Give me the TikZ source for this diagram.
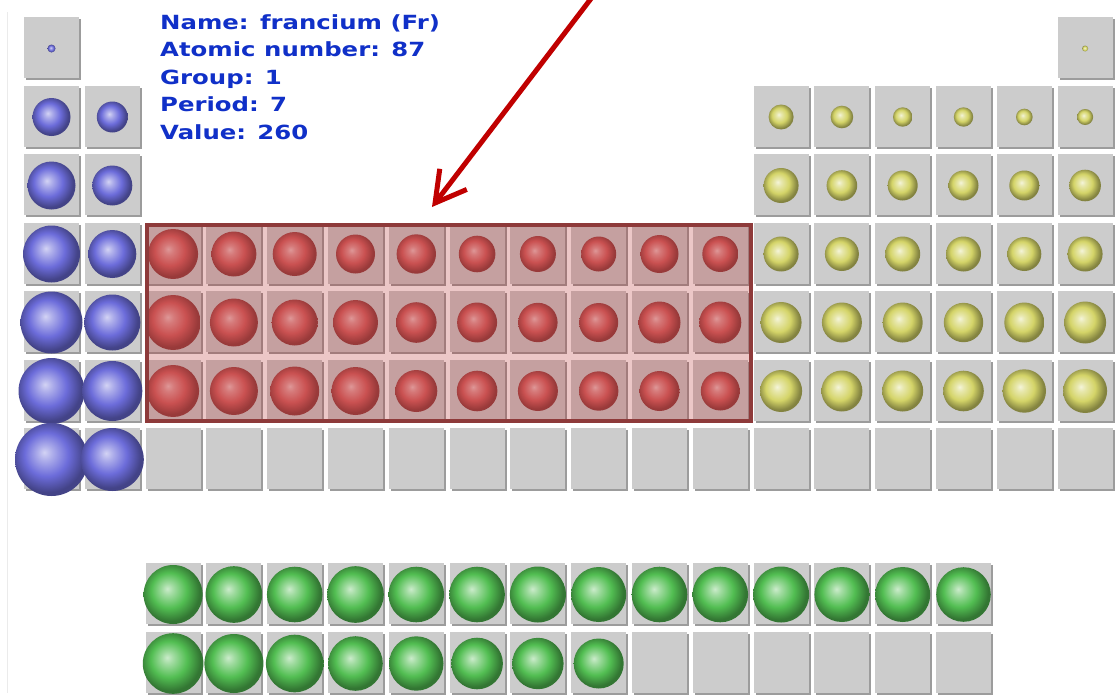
\documentclass[tikz,border=0pt]{standalone}
\usepackage{fontspec}
\usepackage{xcolor}
\usepackage{tikz}
\usetikzlibrary{arrows.meta}
\newfontfamily\infofont{DejaVu Sans}[FakeStretch=1.25]
\definecolor{cellgray}{HTML}{CCCCCC}
\definecolor{shadowgray}{HTML}{9C9C9C}
\definecolor{infoblue}{HTML}{1030C8}
\definecolor{arrowred}{HTML}{C00000}
\definecolor{boxred}{HTML}{8E3A3A}
\definecolor{tintred}{HTML}{B42020}
\definecolor{sblue}{HTML}{6C6CDA}
\definecolor{sred}{HTML}{D26262}
\definecolor{syellow}{HTML}{D4D468}
\definecolor{sgreen}{HTML}{52BE52}
% glossy spheres, one shading per colour
\pgfdeclareradialshading{sphereblue}{\pgfqpoint{-5bp}{5bp}}{color(0bp)=(sblue!30!white); color(5bp)=(sblue!55!white); color(15bp)=(sblue); color(25bp)=(sblue!62!black); color(50bp)=(sblue!62!black)}
\pgfdeclareradialshading{spherered}{\pgfqpoint{-5bp}{5bp}}{color(0bp)=(sred!40!white); color(5bp)=(sred!65!white); color(15bp)=(sred); color(25bp)=(sred!68!black); color(50bp)=(sred!68!black)}
\pgfdeclareradialshading{sphereyellow}{\pgfqpoint{-5bp}{5bp}}{color(0bp)=(syellow!25!white); color(5bp)=(syellow!55!white); color(15bp)=(syellow); color(25bp)=(syellow!62!black); color(50bp)=(syellow!62!black)}
\pgfdeclareradialshading{spheregreen}{\pgfqpoint{-5bp}{5bp}}{color(0bp)=(sgreen!30!white); color(5bp)=(sgreen!55!white); color(15bp)=(sgreen); color(25bp)=(sgreen!62!black); color(50bp)=(sgreen!62!black)}
\tikzset{
  cellface/.style={fill=cellgray},
  cellshade/.style={fill=shadowgray},
  info/.style={text=infoblue, font=\infofont\bfseries\fontsize{19.5}{24}\selectfont, inner sep=0pt, anchor=base west},
  dbox/.style={draw=boxred, line width=4pt, fill=tintred, fill opacity=0.25, inner sep=0pt},
  pointer/.style={draw=arrowred, line width=5pt, -{Straight Barb[length=30pt,width=34pt]}},
  edgeline/.style={draw=black!8, line width=1pt}
}
% one box of the table: column, top edge
\newcommand{\cellat}[2]{%
  \fill[cellshade] ({26+60.8*(#1-1)},{#2+2}) rectangle ++(55,61);
  \fill[cellface] ({24+60.8*(#1-1)},{#2}) rectangle ++(55,61);
}
% one sphere: column, top edge of its box, radius, colour
\newcommand{\atomat}[4]{%
  \shade[shading=sphere#4] ({51.5+60.8*(#1-1)},{#2+31.5}) circle[radius=#3pt];
}

\begin{document}
\begin{tikzpicture}[x=1pt, y=-1pt]
  \useasboundingbox (0,0) rectangle (1115,699);
  \fill[white] (0,0) rectangle (1115,699);
  \draw[edgeline] (7,12) -- (7,693);

  % boxes
  \foreach \c in {1,18} {\cellat{\c}{17}}
  \foreach \r in {2,3} {
    \pgfmathsetmacro\rowy{17+68.5*(\r-1)}
    \foreach \c in {1,2,13,14,...,18} {\cellat{\c}{\rowy}}
  }
  \foreach \r in {4,...,7} {
    \pgfmathsetmacro\rowy{17+68.5*(\r-1)}
    \foreach \c in {1,...,18} {\cellat{\c}{\rowy}}
  }
  \foreach \c in {3,...,16} {\cellat{\c}{563} \cellat{\c}{632}}

  % s block
  \foreach \c/\r/\s in {1/1/4, 1/2/19, 2/2/15.5, 1/3/24, 2/3/20, 1/4/28.5, 2/4/24,
      1/5/31, 2/5/28, 1/6/33, 2/6/30, 1/7/36.5, 2/7/31.5} {
    \pgfmathsetmacro\rowy{17+68.5*(\r-1)}
    \atomat{\c}{\rowy}{\s}{blue}
  }

  % d block
  \foreach \s [count=\c from 3] in {25,22.5,22,19.5,19.7,18.3,18,17.5,19,18} {\atomat{\c}{222.5}{\s}{red}}
  \foreach \s [count=\c from 3] in {27.5,24,23,22.5,20.3,20,19.7,19.5,21,21} {\atomat{\c}{291}{\s}{red}}
  \foreach \s [count=\c from 3] in {26,24,24.5,24,21,20.3,20,19.7,20,19.5} {\atomat{\c}{359.5}{\s}{red}}

  % p block
  \atomat{18}{17}{3}{yellow}
  \foreach \s [count=\c from 13] in {12.5,11.3,9.7,9.7,8.3,8} {\atomat{\c}{85.5}{\s}{yellow}}
  \foreach \s [count=\c from 13] in {17.5,15.3,15,15,15,15.8} {\atomat{\c}{154}{\s}{yellow}}
  \foreach \s [count=\c from 13] in {17.5,17,17.5,17.5,17,17.5} {\atomat{\c}{222.5}{\s}{yellow}}
  \foreach \s [count=\c from 13] in {20.5,20,20,19.7,20,21} {\atomat{\c}{291}{\s}{yellow}}
  \foreach \s [count=\c from 13] in {21,20.5,20.5,20.3,21.7,22} {\atomat{\c}{359.5}{\s}{yellow}}

  % f block
  \foreach \s [count=\c from 3] in {29.5,28.3,27.8,28.3,27.8,27.8,28,27.5,27.8,27.8,28,27.5,27.5,27.3} {\atomat{\c}{563}{\s}{green}}
  \foreach \s [count=\c from 3] in {30.3,29.5,28.8,27.3,27.2,25.8,25.7,25} {\atomat{\c}{632}{\s}{green}}

  % highlighted transition metals
  \node[dbox, minimum width=604pt, minimum height=196pt, anchor=north west] (dblock) at (145,223) {};

  \foreach \txt [count=\i] in {Name: francium (Fr), Atomic number: 87, Group: 1, Period: 7, Value: 260}
    \node[info] (info\i) at (160,{1.5+27.5*\i}) {\txt};

  \coordinate (tail) at (593,-4);
  \coordinate (tip) at (432,207);
  \draw[pointer] (tail) -- (tip);
\end{tikzpicture}
\end{document}
